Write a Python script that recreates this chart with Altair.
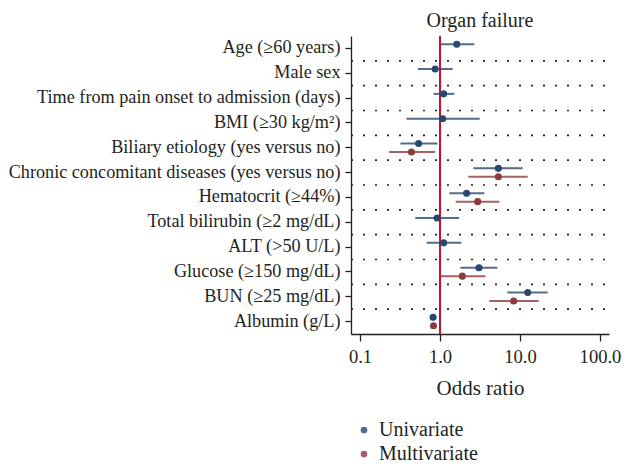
import altair as alt
import pandas as pd

categories = [
    "Age (≥60 years)",
    "Male sex",
    "Time from pain onset to admission (days)",
    "BMI (≥30 kg/m²)",
    "Biliary etiology (yes versus no)",
    "Chronic concomitant diseases (yes versus no)",
    "Hematocrit (≥44%)",
    "Total bilirubin (≥2 mg/dL)",
    "ALT (>50 U/L)",
    "Glucose (≥150 mg/dL)",
    "BUN (≥25 mg/dL)",
    "Albumin (g/L)",
]
uni_or = [1.62, 0.87, 1.11, 1.08, 0.54, 5.36, 2.15, 0.92, 1.11, 3.07, 12.5, 0.82]
uni_lo = [0.98, 0.53, 0.83, 0.38, 0.32, 2.61, 1.31, 0.49, 0.68, 1.80, 6.95, 0.80]
uni_hi = [2.69, 1.44, 1.51, 3.13, 0.93, 10.8, 3.58, 1.73, 1.85, 5.21, 22.2, 0.85]

multi_cats = [
    "Biliary etiology (yes versus no)",
    "Chronic concomitant diseases (yes versus no)",
    "Hematocrit (≥44%)",
    "Glucose (≥150 mg/dL)",
    "BUN (≥25 mg/dL)",
    "Albumin (g/L)",
]
multi_or = [0.44, 5.36, 2.96, 1.90, 8.33, 0.83]
multi_lo = [0.23, 2.26, 1.57, 1.00, 4.14, 0.81]
multi_hi = [0.87, 12.5, 5.52, 3.69, 17.1, 0.85]

models = ["Univariate", "Multivariate"]
x_ticks = [0.1, 1, 10, 100]

df = pd.concat([
    pd.DataFrame({"cat": categories, "model": models[0], "or": uni_or, "lo": uni_lo, "hi": uni_hi}),
    pd.DataFrame({"cat": multi_cats, "model": models[1], "or": multi_or, "lo": multi_lo, "hi": multi_hi}),
], ignore_index=True)

grid_df = pd.DataFrame({"cat": categories[1:]})

FONT = "Liberation Serif"
TXT = "#231f20"

xscale = alt.Scale(type="log", domain=[10 ** -1.1125, 10 ** 2.1125])
yscale = alt.Scale(domain=categories, paddingInner=0, paddingOuter=0)
yoff = alt.YOffset("model:N", sort=models,
                   scale=alt.Scale(domain=models, paddingInner=0, paddingOuter=0.475))
cscale = alt.Scale(domain=models, range=["#27476f", "#8c3a3e"])

legend = alt.Legend(
    title=None, orient="none", legendX=3, legendY=384, direction="vertical",
    labelFont=FONT, labelFontSize=20, labelColor=TXT, symbolSize=45,
    symbolType="circle", symbolStrokeWidth=0, rowPadding=4, labelOffset=5)

yaxis = alt.Axis(title=None, labelFont=FONT, labelFontSize=18.2, labelColor=TXT,
                 tickSize=6, labelPadding=5, domainColor=TXT, tickColor=TXT,
                 domainWidth=1.3, tickWidth=1.3, grid=False, labelLimit=400)
xaxis = alt.Axis(title="Odds ratio", values=x_ticks, format=".1f",
                 labelFont=FONT, labelFontSize=18.6, labelColor=TXT,
                 titleFont=FONT, titleFontSize=21, titleFontWeight="normal",
                 titleColor=TXT, titlePadding=12, tickSize=7, labelPadding=6,
                 domainColor=TXT, tickColor=TXT, domainWidth=1.3, tickWidth=1.3,
                 grid=False)

grid = alt.Chart(grid_df).mark_rule(color="#222222", strokeWidth=1.6,
                                    strokeDash=[2, 10]).encode(
    y=alt.Y("cat:N", scale=yscale, axis=yaxis, bandPosition=0),
    x=alt.value(0),
    x2=alt.value(258),
)

refline = alt.Chart(pd.DataFrame({"v": [1]})).mark_rule(
    color="#c8102e", strokeWidth=2).encode(
    x=alt.X("v:Q", scale=xscale, axis=xaxis))

bars = alt.Chart(df).mark_rule(strokeWidth=2, opacity=0.8).encode(
    x=alt.X("lo:Q", scale=xscale, axis=xaxis),
    x2="hi:Q",
    y=alt.Y("cat:N", scale=yscale, axis=yaxis),
    yOffset=yoff,
    color=alt.Color("model:N", scale=cscale, legend=legend),
)

points = alt.Chart(df).mark_circle(size=50, opacity=1).encode(
    x=alt.X("or:Q", scale=xscale, axis=xaxis),
    y=alt.Y("cat:N", scale=yscale, axis=yaxis),
    yOffset=yoff,
    color=alt.Color("model:N", scale=cscale, legend=legend),
)

chart = alt.layer(grid, bars, refline, points).properties(
    width=258, height=298,
    autosize=alt.AutoSizeParams(type="none"),
    padding={"left": 343, "top": 28, "right": 13, "bottom": 130},
    title=alt.TitleParams("Organ failure", font=FONT, fontSize=20,
                          fontWeight="normal", color=TXT, offset=4.5),
).configure_view(stroke=None)

chart.save("out.html", embed_options={"renderer": "svg", "actions": False})
